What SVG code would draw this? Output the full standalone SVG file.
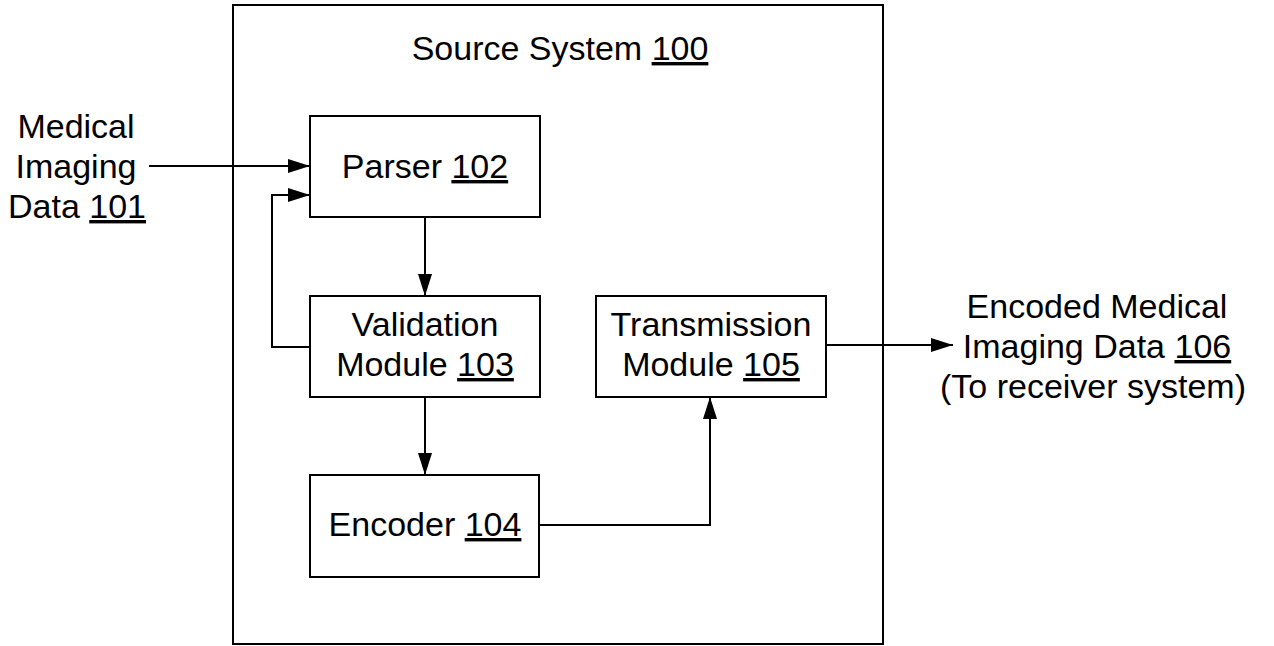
<svg xmlns="http://www.w3.org/2000/svg" width="1274" height="646" viewBox="0 0 1274 646">
  <style>
    .box { fill: #ffffff; stroke: #000000; stroke-width: 2; }
    .outer { fill: none; stroke: #000000; stroke-width: 2; }
    .conn { fill: none; stroke: #000000; stroke-width: 2; }
    .lbl { font-family: "Liberation Sans", Arial, sans-serif; font-size: 34px; fill: #000000; text-anchor: middle; }
    .u { text-decoration: underline; text-underline-offset: 5px; }
  </style>
  <defs>
    <marker id="arrow" markerUnits="userSpaceOnUse" markerWidth="22" markerHeight="14" refX="22" refY="7" orient="auto">
      <path d="M0,0 L22,7 L0,14 z" fill="#000000"/>
    </marker>
  </defs>
  <rect width="1274" height="646" fill="#ffffff"/>

  <g id="source-system">
    <rect class="outer" x="233" y="5" width="650" height="639"/>
    <text class="lbl" x="560" y="60">Source System <tspan class="u">100</tspan></text>
  </g>

  <g id="input-data">
    <text class="lbl" x="76" y="138">Medical</text>
    <text class="lbl" x="76" y="178">Imaging</text>
    <text class="lbl" x="77" y="218">Data <tspan class="u">101</tspan></text>
  </g>

  <g id="parser">
    <rect class="box" x="310" y="116" width="230" height="101"/>
    <text class="lbl" x="425" y="178">Parser <tspan class="u">102</tspan></text>
  </g>

  <g id="validation">
    <rect class="box" x="310" y="296" width="230" height="101"/>
    <text class="lbl" x="425" y="336">Validation</text>
    <text class="lbl" x="425" y="376">Module <tspan class="u">103</tspan></text>
  </g>

  <g id="encoder">
    <rect class="box" x="310" y="475" width="229" height="102"/>
    <text class="lbl" x="425" y="536">Encoder <tspan class="u">104</tspan></text>
  </g>

  <g id="transmission">
    <rect class="box" x="596" y="296" width="230" height="101"/>
    <text class="lbl" x="711" y="336">Transmission</text>
    <text class="lbl" x="711" y="376">Module <tspan class="u">105</tspan></text>
  </g>

  <g id="output-data">
    <text class="lbl" x="1097" y="318">Encoded Medical</text>
    <text class="lbl" x="1097" y="358">Imaging Data <tspan class="u">106</tspan></text>
    <text class="lbl" x="1093" y="398">(To receiver system)</text>
  </g>

  <g id="connectors">
    <path class="conn" d="M149,166 H310" marker-end="url(#arrow)"/>
    <path class="conn" d="M310,347 H272 V195 H310" marker-end="url(#arrow)"/>
    <path class="conn" d="M425,217 V296" marker-end="url(#arrow)"/>
    <path class="conn" d="M425,397 V475" marker-end="url(#arrow)"/>
    <path class="conn" d="M539,525 H710 V397" marker-end="url(#arrow)"/>
    <path class="conn" d="M826,345 H953" marker-end="url(#arrow)"/>
  </g>
</svg>
